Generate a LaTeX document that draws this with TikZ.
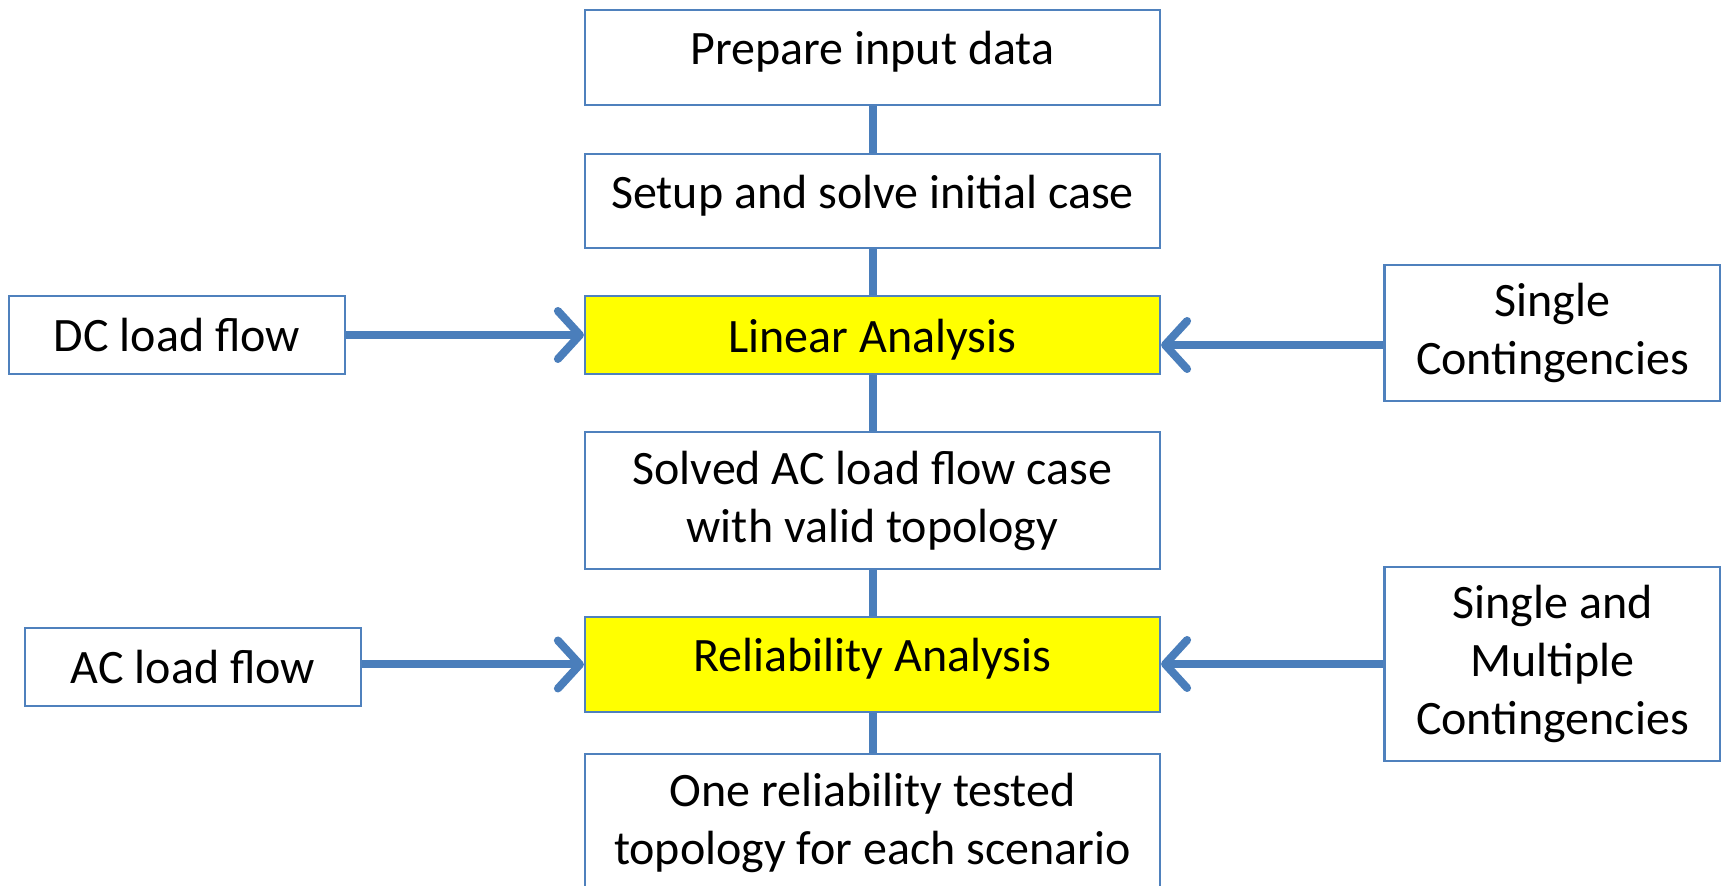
\documentclass[tikz,border=0pt]{standalone}
\usepackage{fontspec}
\setmainfont{Carlito}
\usetikzlibrary{arrows.meta}
\definecolor{boxline}{HTML}{4F81BD}
\definecolor{conn}{HTML}{4A7EBB}
\definecolor{hl}{HTML}{FFFF00}
% shift a label vertically without changing the box it reports
\newcommand{\lift}[2]{\raisebox{#1}[\height][\depth]{#2}}
\tikzset{
  box/.style={draw=boxline, line width=1.1pt, fill=white, inner sep=0pt,
    align=center, font=\fontsize{24}{29}\selectfont},
  mainbox/.style={box, minimum width=287.5pt},
  hilite/.style={mainbox, fill=hl},
  sidebox/.style={box, minimum width=168pt},
  link/.style={draw=conn, line width=4pt},
  feed/.style={link, -{Straight Barb[length=11pt, width=24pt, line cap=round, line join=round]}}
}
\begin{document}
\begin{tikzpicture}[x=0.5pt, y=-0.5pt]
  \useasboundingbox (0,0) rectangle (1721,886);
  \clip (0,0) rectangle (1721,886);
  % central chain
  \node[mainbox, minimum height=47.5pt] (prep)   at (872.5,57.5)  {\lift{2.7pt}{Prepare input data}};
  \node[mainbox, minimum height=47pt]   (setup)  at (872.5,201)   {\lift{2.7pt}{Setup and solve initial case}};
  \node[hilite,  minimum height=39pt]   (lin)    at (872.5,335)   {\lift{-2.5pt}{Linear Analysis}};
  \node[mainbox, minimum height=68.5pt] (solved) at (872.5,500.5) {Solved AC load flow case\\with valid topology};
  \node[hilite,  minimum height=47.5pt] (rel)    at (872.5,664.5) {\lift{2.7pt}{Reliability Analysis}};
  \node[mainbox, minimum height=68.5pt] (one)    at (872.5,822.5) {One reliability tested\\topology for each scenario};
  % side inputs
  \node[sidebox, minimum height=39pt] (dc) at (177,335) {DC load flow};
  \node[sidebox, minimum height=39pt] (ac) at (193,667) {AC load flow};
  \node[sidebox, minimum height=68pt] (sc) at (1552.5,333) {Single\\Contingencies};
  \node[sidebox, minimum height=97pt] (smc) at (1552.5,664) {Single and\\Multiple\\Contingencies};
  \coordinate (scin) at ([yshift=-6pt]sc.west);
  % vertical links
  \draw[link] (prep) -- (setup);
  \draw[link] (setup) -- (lin);
  \draw[link] (lin) -- (solved);
  \draw[link] (solved) -- (rel);
  \draw[link] (rel) -- (one);
  % horizontal feeds
  \draw[feed] (dc.east) -- (lin.west);
  \draw[feed] (scin) -- (lin.east |- scin);
  \draw[feed] (ac.east |- rel.west) -- (rel.west);
  \draw[feed] (smc.west) -- (rel.east |- smc.west);
\end{tikzpicture}
\end{document}
